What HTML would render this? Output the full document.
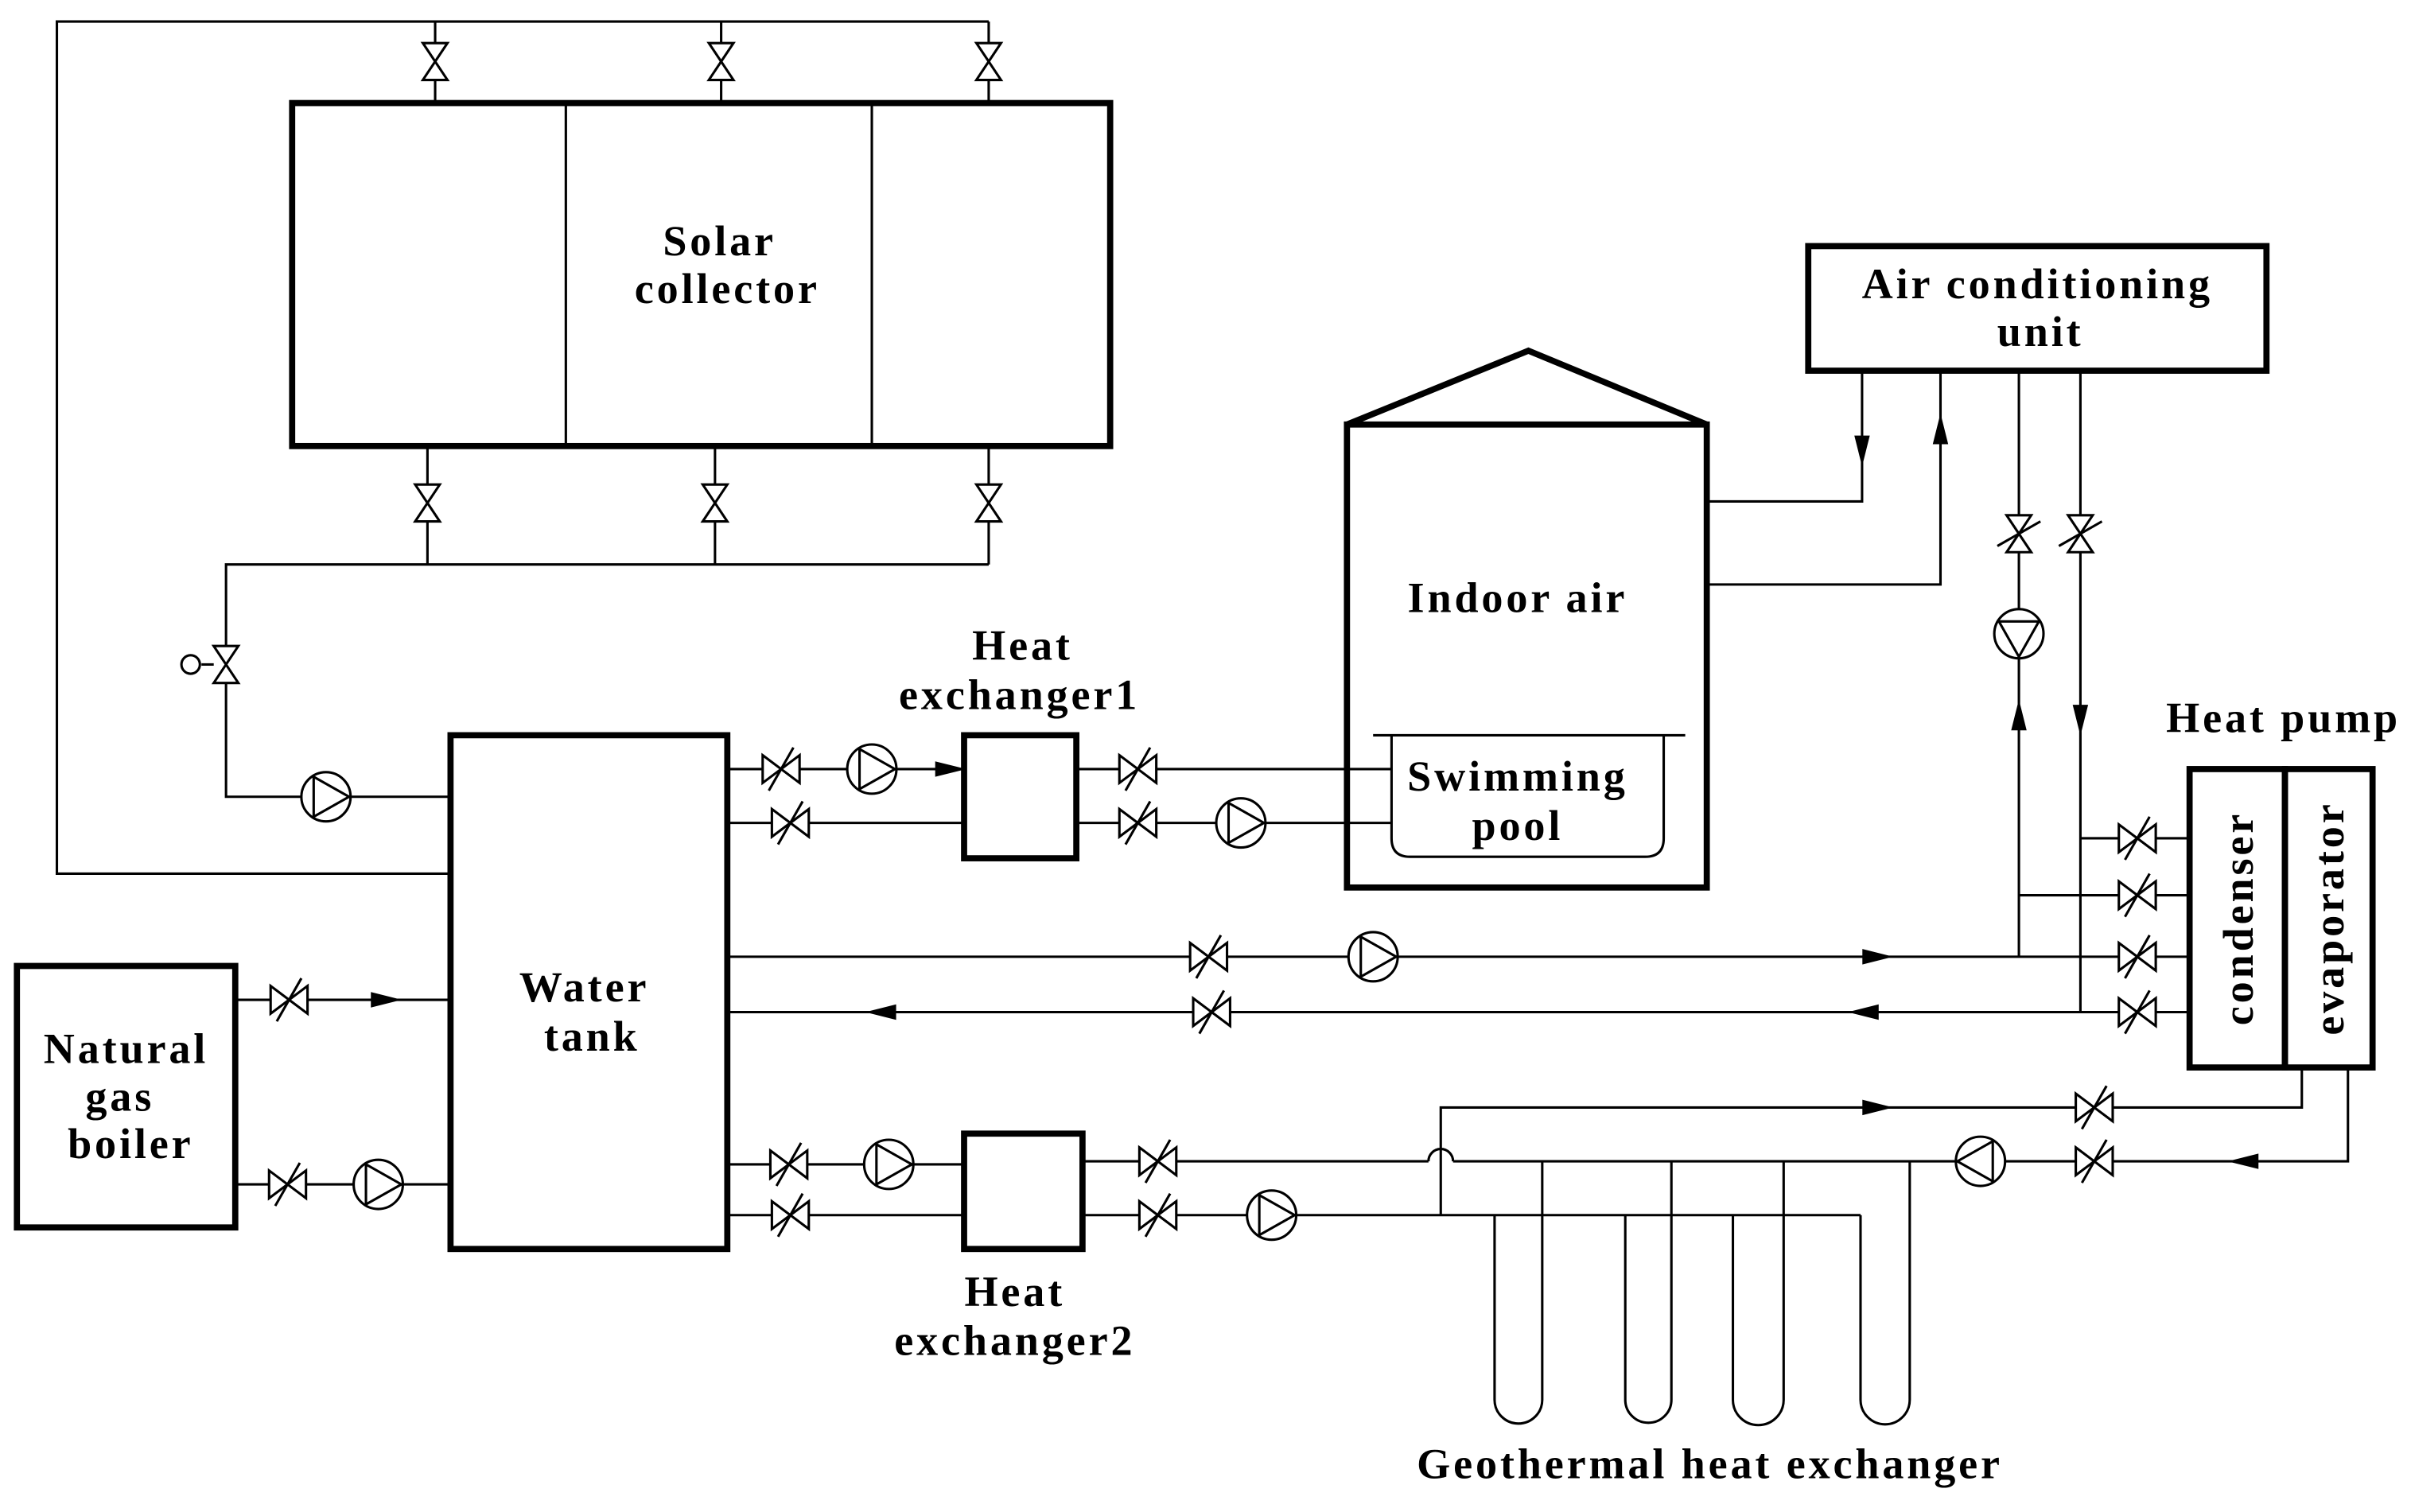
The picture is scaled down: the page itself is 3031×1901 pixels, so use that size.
<!DOCTYPE html>
<html><head><meta charset="utf-8">
<style>
html,body{margin:0;padding:0;background:#fff;}
svg{display:block;}
text{font-family:"Liberation Serif",serif;font-weight:bold;font-size:28px;letter-spacing:2px;fill:#000;text-anchor:middle;}
</style></head>
<body>
<svg id="s" width="3031" height="1901" viewBox="0 0 1568 983" preserveAspectRatio="none" xmlns="http://www.w3.org/2000/svg">
<g id="g" fill="none" stroke="#000" stroke-width="1.6"></g>
<g id="t"></g>
</svg>
<script>
var g=document.getElementById('g'),T=document.getElementById('t'),NS='http://www.w3.org/2000/svg';
function el(p,n,a){var e=document.createElementNS(NS,n);for(var k in a)e.setAttribute(k,a[k]);p.appendChild(e);return e;}
function L(pts){el(g,'polyline',{points:pts});}
function R(x1,y1,x2,y2,w){el(g,'rect',{x:x1,y:y1,width:x2-x1,height:y2-y1,'stroke-width':w||4});}
function tx(x,y,s,extra){var e=el(T,'text',Object.assign({x:x,y:y},extra||{}));e.textContent=s;}
function VH(x,y,slash){el(g,'path',{d:'M'+(x-12)+','+(y-9)+'L'+(x+12)+','+(y+9)+'L'+(x+12)+','+(y-9)+'L'+(x-12)+','+(y+9)+'Z',fill:'#fff'});
 if(slash)el(g,'line',{x1:x-8,y1:y+14,x2:x+8,y2:y-14});}
function VV(x,y,slash){el(g,'path',{d:'M'+(x-8)+','+(y-12)+'L'+(x+8)+','+(y+12)+'L'+(x-8)+','+(y+12)+'L'+(x+8)+','+(y-12)+'Z',fill:'#fff'});
 if(slash)el(g,'line',{x1:x-14,y1:y+8,x2:x+14,y2:y-8});}
function P(x,y,d){el(g,'circle',{cx:x,cy:y,r:16,fill:'#fff'});var r=15,p;
 if(d=='r')p=[[x+r,y],[x-8,y-13],[x-8,y+13]];
 if(d=='l')p=[[x-r,y],[x+8,y-13],[x+8,y+13]];
 if(d=='u')p=[[x,y-r],[x-13,y+8],[x+13,y+8]];
 if(d=='d')p=[[x,y+r],[x-13,y-8],[x+13,y-8]];
 el(g,'polygon',{points:p.map(function(a){return a.join(',')}).join(' ')});}
function A(x,y,d){var p;
 if(d=='r')p=[[x,y],[x-16,y-4],[x-16,y+4]];
 if(d=='l')p=[[x,y],[x+16,y-4],[x+16,y+4]];
 if(d=='u')p=[[x,y],[x-4,y+16],[x+4,y+16]];
 if(d=='d')p=[[x,y],[x-4,y-16],[x+4,y-16]];
 el(g,'polygon',{points:p.map(function(a){return a.join(',')}).join(' '),fill:'#000'});}

L('293,568 37,568 37,14 643,14');
[283,469,643].forEach(function(x){L(x+',14 '+x+',67');VV(x,40);});
R(190,67,722,290);
L('368,67 368,290');L('567,67 567,290');
[278,465,643].forEach(function(x){L(x+',290 '+x+',367');VV(x,327);});
L('643,367 147,367 147,518 293,518');
VV(147,432);el(g,'line',{x1:131,y1:432,x2:139,y2:432});el(g,'circle',{cx:124,cy:432,r:6,fill:'#fff'});
P(212,518,'r');
R(293,478,473,812);
R(11,628,153,798);
L('153,650 293,650');VH(188,650,1);A(258,650,'r');
L('153,770 293,770');VH(187,770,1);P(246,770,'r');
R(627,478,700,558);
L('473,500 627,500');VH(508,500,1);P(567,500,'r');A(625,500,'r');
L('473,535 627,535');VH(514,535,1);
L('700,500 905,500');VH(740,500,1);
L('700,535 905,535');VH(740,535,1);P(807,535,'r');
R(876,276,1110,577);
el(g,'polyline',{points:'876,276 994,228 1110,276','stroke-width':4});
L('893,478 1096,478');
el(g,'path',{d:'M905,478 L905,545 Q905,557 917,557 L1070,557 Q1082,557 1082,545 L1082,478'});
R(1176,160,1474,241);
L('1110,326 1211,326 1211,241');A(1211,300,'d');
L('1110,380 1262,380 1262,241');A(1262,272,'u');
L('1313,241 1313,622');VV(1313,347,1);P(1313,412,'d');A(1313,458,'u');
L('1353,241 1353,658');VV(1353,347,1);A(1353,475,'d');
R(1424,500,1486,694);R(1486,500,1543,694);
L('1353,545 1424,545');VH(1390,545,1);
L('1313,582 1424,582');VH(1390,582,1);
L('473,622 1424,622');VH(1390,622,1);VH(786,622,1);P(893,622,'r');A(1228,622,'r');
L('473,658 1424,658');VH(1390,658,1);VH(788,658,1);A(566,658,'l');A(1205,658,'l');
L('1497,694 1497,720 937,720 937,790');VH(1362,720,1);A(1228,720,'r');
L('1527,694 1527,755 945,755');el(g,'path',{d:'M945,755 A8,8 0 0 0 929,755'});L('929,755 704,755');
VH(1362,755,1);P(1288,755,'l');A(1452,755,'l');
R(627,737,704,812);
L('473,757 627,757');VH(513,757,1);P(578,757,'r');
L('473,790 627,790');VH(514,790,1);
VH(753,755,1);
L('704,790 1210,790');VH(753,790,1);P(827,790,'r');
[[972,1003],[1057,1087],[1127,1160],[1210,1242]].forEach(function(p){var a=p[0],b=p[1],r=(b-a)/2;
 el(g,'path',{d:'M'+a+',790 L'+a+',910 A'+r+','+r+' 0 0 0 '+b+',910 L'+b+',755'});});
tx(468,166,'Solar');tx(473,197,'collector');
tx(380,651,'Water');tx(385,683,'tank');
tx(82,691,'Natural');tx(78,722,'gas');tx(85,753,'boiler');
tx(665,429,'Heat');tx(663,461,'exchanger1');
tx(987,398,'Indoor air');tx(987,514,'Swimming');tx(987,546,'pool');
tx(1325,194,'Air conditioning');tx(1327,225,'unit');
tx(1485,476,'Heat pump');
tx(660,849,'Heat');tx(660,881,'exchanger2');
tx(1112,961,'Geothermal heat exchanger');
tx(0,0,'condenser',{transform:'translate(1465,597) rotate(-90)'});
tx(0,0,'evaporator',{transform:'translate(1524,597) rotate(-90)'});
</script>
</body></html>
